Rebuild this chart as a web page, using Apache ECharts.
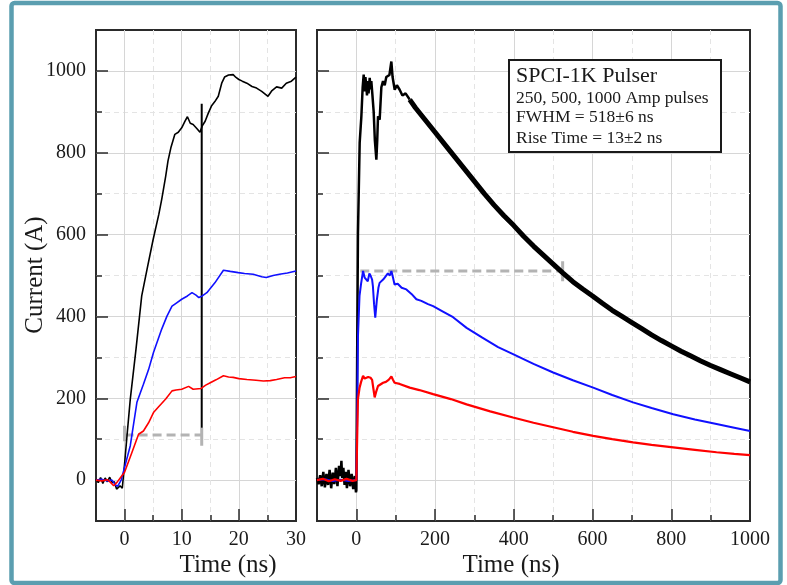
<!DOCTYPE html>
<html><head><meta charset="utf-8">
<script src="https://cdn.jsdelivr.net/npm/echarts@6/dist/echarts.min.js"></script>
<style>html,body{margin:0;padding:0;background:#fff}#c{width:787px;height:585px}</style>
</head><body><div id="c"></div>
<script>
// ---------- Left panel (0-30 ns zoom) ----------
const leftBlackT = [-5,-4.6,-4.2,-3.8,-3.4,-3,-2.6,-2.2,-1.8,-1.4,-1.1,-0.8,-0.4,0,0.5,1,2,3,4,5,6,6.5,7.2,7.6,8.1,8.8,9.4,10,10.6,11,11.5,12,12.6,13.2,13.6,14.1,14.6,15.2,15.8,16.4,17,17.5,18.2,19,19.5,20,20.6,21.4,22.3,23.1,24,25.1,25.8,26.6,27.5,28.3,29.2,30];
const leftBlackA = [2,-6,6,-8,5,-4,7,-6,-4,-22,-26,-14,-20,40,120,198,320,450,520,588,650,686,743,780,812,845,850,861,878,888,872,869,860,850,866,877,895,914,925,938,970,985,990,991,984,979,975,970,962,958,950,938,952,961,958,970,975,985];
const leftBlueT = [-5,-4,-3,-2.2,-1.6,-1.2,-0.6,0,1,2.16,3.3,4.2,5.06,6.5,7.4,8.3,9,10,11,11.8,12.5,13,13.6,14.4,15.8,17.3,18.5,19.9,21,22.5,24,24.8,26,27.1,28.5,30];
const leftBlueA = [0,2,-2,0,-12,-15,0,31,84,190,234,270,312,369,400,425,432,442,450,458,452,446,450,458,482,513,510,507,505,503,497,495,500,503,506,511];
const leftRedT = [-5,-4,-3,-2.5,-1.9,-1.3,-0.6,0,1.3,2.45,3.3,4.2,5.06,6,7.2,8.3,9,10,11.2,12,13.4,14.2,15,16,17.3,18.2,19,20,21.4,23,24.3,25.5,26.6,28,29,30];
const leftRedA = [0,-2,1,-5,-14,-5,8,19,68,112,120,140,165,180,198,218,220,222,229,222,224,232,238,245,255,252,251,248,246,244,242,243,246,250,250,253];
// markers (rise time / half max) in left panel
const leftRiseT = [13.5,13.5];   const leftRiseA = [128,920];
const leftHalfT = [0,13.5];      const leftHalfA = [110,110];
const leftHalfStartT = [0,0];    const leftHalfStartA = [95,133];
const leftHalfEndT = [13.5,13.5];const leftHalfEndA = [84,128];

// ---------- Right panel (full pulse) ----------
const rightBlackT = [-100,-96,-92,-88,-84,-80,-76,-72,-68,-64,-60,-56,-52,-48,-44,-40,-38,-36,-33,-30,-27,-24,-20,-16,-12,-8,-4,-1,0,2,4,8.4,12.7,16,18.6,21,23,25,27,29,31,33.9,36,38,40.7,44,47,50.8,53,55,59.2,63.5,67.7,72,76,80.4,84,88.9,92,97.4,103,110,117,125,135.5];
const rightBlackA = [5,-10,12,-15,20,-18,15,-12,25,-20,18,-10,30,-15,35,10,47,5,30,-12,20,-20,25,-15,15,-22,10,-30,-25,300,600,824,889,960,991,950,985,965,940,975,945,983,955,975,942,900,830,783,830,889,881,960,975,965,985,983,990,1023,985,954,965,954,940,945,930];
const rightBlackTailT = [135.5,150,175,200,225,250,275,300,325,350,375,400,425,450,475,500,525,550,575,600,625,650,675,700,725,750,775,800,825,850,875,900,925,950,975,1000];
const rightBlackTailA = [930,910,880,850,820,790,760,730,700,672,646,622,596,572,550,528,506,485,467,450,432,415,400,385,370,355,341,328,315,303,291,280,270,260,250,240];
const rightBlueT = [-100,-80,-60,-40,-20,0,2,4,8,12,17,21,25,29,33,36,40,42,45,48,52,56,59,63.5,68,72,76,80,85,89,93,97,105,115,127,140,152.5,165,182,195,220,245.7,280,320,360,398,450,500,550,601.6,650,703,750,805,860,915,960,1000];
const rightBlueA = [0,2,-2,1,-2,0,150,350,450,480,511,495,499,486,505,500,490,474,430,397,440,470,482,482,490,495,499,505,500,511,495,478,480,470,466,455,442,438,430,425,412,398,372,348,325,308,284,263,244,226,208,190,176,161,148,137,128,120];
const rightRedT = [-100,-85,-70,-55,-40,-25,-10,0,2,4,8,12,17,21,25,30,36,40,43,46.5,50,55,60,68,75,82,89,93,97,110,135.5,160,195,240,280,340,398,450,500,550,601.6,650,703,750,805,860,915,960,1000];
const rightRedA = [0,3,-3,2,-2,3,-2,0,100,198,225,240,255,248,246,252,250,245,225,202,215,230,232,238,240,245,253,245,238,235,226,220,210,198,185,168,153,140,129,118,108,100,92,86,80,74,68,64,61];
const rightHalfT = [10,524];       const rightHalfA = [511,511];
const rightHalfEndT = [524,524];   const rightHalfEndA = [486,535];

// ---------- Axis ticks / labels ----------
const leftTimeRange = [-5,30];   const leftTimeMinor = 5;  const leftTimeMajor = 10;
const rightTimeRange = [-100,1000]; const rightTimeMinor = 100; const rightTimeMajor = 200;
const currentRange = [-100,1100]; const currentMinor = 100; const currentMajor = 200;

const infoLines = ['SPCI-1K Pulser','250, 500, 1000 Amp pulses','FWHM = 518\u00b16 ns','Rise Time = 13\u00b12 ns'];

const FONT = 'Liberation Serif';
const zip = (a,b) => a.map((v,i) => [v,b[i]]);

const G0 = {left:96, top:30, width:200, height:491};
const G1 = {left:317, top:30, width:433, height:491};
function grid(g){ return Object.assign({show:true, borderColor:'#2b2b2b', borderWidth:2, backgroundColor:'rgba(0,0,0,0)', containLabel:false}, g); }

function minorAxis(gi, range, step, pos){
  return {type:'value', gridIndex:gi, min:range[0], max:range[1], interval:step, position:pos,
    axisLine:{show:false, onZero:false},
    axisTick:{show:true, inside:true, length:6, lineStyle:{color:'#2b2b2b', width:1.5}},
    axisLabel:{show:false},
    splitLine:{show:true, showMinLine:false, showMaxLine:false, lineStyle:{color:'#e4e4e4', type:[5,4], width:1}}};
}
function majorAxis(gi, range, step, pos, labels){
  return {type:'value', gridIndex:gi, min:range[0], max:range[1], minInterval:step, maxInterval:step, splitNumber:6, position:pos,
    axisLine:{show:false, onZero:false},
    axisTick:{show:true, inside:true, length:12, lineStyle:{color:'#2b2b2b', width:1.5}},
    axisLabel:{show:labels, fontFamily:FONT, fontSize:20, color:'#1a1a1a', margin: pos==='left'?10:9,
      formatter: v => (Math.abs(v % step) < 1e-9 ? String(v) : '')},
    splitLine:{show:true, showMinLine:false, showMaxLine:false, lineStyle:{color:'#d6d6d6', width:1}}};
}

function ln(data, color, width, xi, z, type){
  return {type:'line', data:data, xAxisIndex:xi, yAxisIndex:xi, showSymbol:false, symbol:'none',
    lineStyle:{color:color, width:width, type:type||'solid'}, z:z, silent:true, animation:false};
}

const chart = echarts.init(document.getElementById('c'), null, {renderer:'canvas'});
chart.setOption({
  animation:false,
  backgroundColor:'#ffffff',
  grid:[grid(G0), grid(G1)],
  xAxis:[minorAxis(0,leftTimeRange,leftTimeMinor,'bottom'), majorAxis(0,leftTimeRange,leftTimeMajor,'bottom',true),
         minorAxis(1,rightTimeRange,rightTimeMinor,'bottom'), majorAxis(1,rightTimeRange,rightTimeMajor,'bottom',true)],
  yAxis:[minorAxis(0,currentRange,currentMinor,'left'), majorAxis(0,currentRange,currentMajor,'left',true),
         minorAxis(1,currentRange,currentMinor,'left'), majorAxis(1,currentRange,currentMajor,'left',false)],
  series:[
    ln(zip(leftHalfT,leftHalfA), '#b3b3b3', 3, 0, 2, [9,5]),
    ln(zip(leftHalfStartT,leftHalfStartA), '#b3b3b3', 3, 0, 2),
    ln(zip(leftHalfEndT,leftHalfEndA), '#b3b3b3', 3, 0, 2),
    ln(zip(leftBlackT,leftBlackA), '#000000', 1.6, 0, 3),
    ln(zip(leftRiseT,leftRiseA), '#000000', 2, 0, 3),
    ln(zip(leftBlueT,leftBlueA), '#1010ff', 1.6, 0, 4),
    ln(zip(leftRedT,leftRedA), '#ff0000', 1.6, 0, 5),

    ln(zip(rightHalfT,rightHalfA), '#b3b3b3', 3, 2, 2, [9,5]),
    ln(zip(rightHalfEndT,rightHalfEndA), '#b3b3b3', 3, 2, 2),
    ln(zip(rightBlackT,rightBlackA), '#000000', 2.5, 2, 3),
    ln(zip(rightBlackTailT,rightBlackTailA), '#000000', 5, 2, 3),
    ln(zip(rightBlueT,rightBlueA), '#1010ff', 2, 2, 4),
    ln(zip(rightRedT,rightRedA), '#ff0000', 2.2, 2, 5)
  ],
  graphic:[
    {type:'rect', silent:true, z:0, shape:{x:11.5, y:3, width:769, height:580, r:3}, style:{fill:'none', stroke:'#5b9eb0', lineWidth:4.5}},
    {type:'text', silent:true, x:35, y:275, rotation:Math.PI/2, style:{text:'Current (A)', fontFamily:FONT, fontSize:25, fill:'#1a1a1a', align:'center', verticalAlign:'middle'}},
    {type:'text', silent:true, x:228, y:565, style:{text:'Time (ns)', fontFamily:FONT, fontSize:25, fill:'#1a1a1a', align:'center', verticalAlign:'middle'}},
    {type:'text', silent:true, x:511, y:565, style:{text:'Time (ns)', fontFamily:FONT, fontSize:25, fill:'#1a1a1a', align:'center', verticalAlign:'middle'}},
    {type:'rect', silent:true, z:10, shape:{x:509, y:60, width:212, height:92}, style:{fill:'#ffffff', stroke:'#1a1a1a', lineWidth:2}},
    {type:'text', silent:true, z:11, x:516, y:76, style:{text:infoLines[0], fontFamily:FONT, fontSize:22, fill:'#1a1a1a', verticalAlign:'middle'}},
    {type:'text', silent:true, z:11, x:516, y:98, style:{text:infoLines[1], fontFamily:FONT, fontSize:17.5, fill:'#1a1a1a', verticalAlign:'middle'}},
    {type:'text', silent:true, z:11, x:516, y:117, style:{text:infoLines[2], fontFamily:FONT, fontSize:17.5, fill:'#1a1a1a', verticalAlign:'middle'}},
    {type:'text', silent:true, z:11, x:516, y:138, style:{text:infoLines[3], fontFamily:FONT, fontSize:17.5, fill:'#1a1a1a', verticalAlign:'middle'}}
  ]
});
</script></body></html>
